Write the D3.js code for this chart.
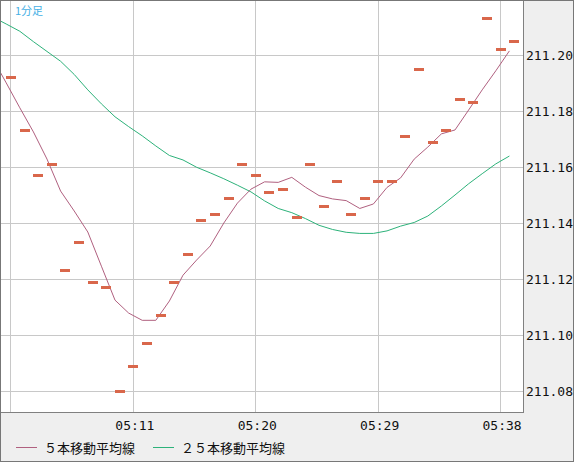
<!DOCTYPE html>
<html><head><meta charset="utf-8">
<script src="https://cdn.jsdelivr.net/npm/d3@7"></script>
<style>html,body{margin:0;padding:0;background:#efefef;} svg{display:block}</style>
</head><body>
<svg id="c" width="574" height="462"></svg>
<script>
// ---- data ----
const priceTimes = ["05:02","05:03","05:04","05:05","05:06","05:07","05:08","05:09","05:10","05:11",
  "05:12","05:13","05:14","05:15","05:16","05:17","05:18","05:19","05:20","05:21",
  "05:22","05:23","05:24","05:25","05:26","05:27","05:28","05:29","05:30","05:31",
  "05:32","05:33","05:34","05:35","05:36","05:37","05:38","05:39"];
const prices = [211.192,211.173,211.157,211.161,211.123,211.133,211.119,211.117,211.080,211.089,
  211.097,211.107,211.119,211.129,211.141,211.143,211.149,211.161,211.157,211.151,
  211.152,211.142,211.161,211.146,211.155,211.143,211.149,211.155,211.155,211.171,
  211.195,211.169,211.173,211.184,211.183,211.213,211.202,211.205];
const maTimes = ["05:01","05:02","05:03","05:04","05:05","05:06","05:07","05:08","05:09","05:10",
  "05:11","05:12","05:13","05:14","05:15","05:16","05:17","05:18","05:19","05:20",
  "05:21","05:22","05:23","05:24","05:25","05:26","05:27","05:28","05:29","05:30",
  "05:31","05:32","05:33","05:34","05:35","05:36","05:37","05:38","05:39"];
const ma5 = [211.1988,211.1901,211.1812,211.1726,211.1629,211.1515,211.1444,211.1369,211.1247,211.1126,
  211.1080,211.1054,211.1054,211.1123,211.1215,211.1269,211.1319,211.1401,211.1472,211.1522,
  211.1548,211.1546,211.1564,211.1529,211.1499,211.1487,211.1481,211.1453,211.1469,211.1528,
  211.1562,211.1629,211.1672,211.1719,211.1733,211.1804,211.1876,211.1944,211.2015];
const ma25 = [211.2136,211.2111,211.2085,211.2048,211.2013,211.1978,211.1931,211.1876,211.1826,211.1780,
  211.1745,211.1712,211.1676,211.1642,211.1626,211.1600,211.1580,211.1559,211.1536,211.1512,
  211.1480,211.1453,211.1438,211.1417,211.1393,211.1378,211.1368,211.1364,211.1364,211.1373,
  211.1390,211.1403,211.1426,211.1462,211.1501,211.1541,211.1577,211.1612,211.1640];
const timeTicks = ["05:02","05:11","05:20","05:29","05:38"];
const priceTicks = [211.08,211.10,211.12,211.14,211.16,211.18,211.20];
const legendLabels = ["５本移動平均線","２５本移動平均線"];
const periodLabel = "1分足";

// ---- layout ----
const W = 574, H = 462;
const P = {left:1, top:1, right:523, bottom:412};
const COL = {ma5:"#b0607f", ma25:"#2db27a", price:"#d9674b", grid:"#c8c8c8", frame:"#808080"};
const parse = d3.timeParse("%H:%M:%S");
const pt = s => parse(s + ":00");
const maShift = -21000; // ms

const svg = d3.select("#c");
svg.append("rect").attr("x",0).attr("y",0).attr("width",W).attr("height",H).attr("fill","#efefef");
svg.append("rect").attr("x",P.left).attr("y",P.top).attr("width",P.right-P.left).attr("height",P.bottom-P.top).attr("fill","#fff");

const x = d3.scaleTime().domain([parse("05:01:16"), parse("05:39:39")]).range([P.left, P.right]);
const y = d3.scaleLinear().domain([211.0727, 211.2193]).range([P.bottom, P.top]);

svg.append("defs").append("clipPath").attr("id","clip").append("rect")
  .attr("x",P.left).attr("y",P.top).attr("width",P.right-P.left).attr("height",P.bottom-P.top);

// grid
const grid = svg.append("g").attr("shape-rendering","crispEdges").attr("stroke",COL.grid).attr("stroke-width",1);
timeTicks.forEach(t => {
  const xx = Math.floor(x(pt(t))) + 0.5;
  grid.append("line").attr("x1",xx).attr("x2",xx).attr("y1",P.top).attr("y2",P.bottom);
});
priceTicks.forEach(v => {
  const yy = Math.floor(y(v)) + 0.5;
  grid.append("line").attr("x1",P.left).attr("x2",P.right).attr("y1",yy).attr("y2",yy);
});

const plot = svg.append("g").attr("clip-path","url(#clip)");
const line = d3.line().x((d,i) => x(new Date(pt(maTimes[i]).getTime() + maShift))).y(d => y(d));
plot.append("path").datum(ma25).attr("d",line).attr("fill","none").attr("stroke",COL.ma25).attr("stroke-width",1);
plot.append("path").datum(ma5).attr("d",line).attr("fill","none").attr("stroke",COL.ma5).attr("stroke-width",1);

plot.append("g").attr("shape-rendering","crispEdges").selectAll("rect").data(prices).join("rect")
  .attr("x",(d,i) => Math.round(x(pt(priceTimes[i])) - 5))
  .attr("y",d => Math.round(y(d) - 1.5))
  .attr("width",10).attr("height",3).attr("fill",COL.price);

// frame of plot
svg.append("path").attr("d",`M${P.right+0.5},0 V${P.bottom+0.5} H0`).attr("fill","none")
  .attr("stroke",COL.frame).attr("shape-rendering","crispEdges");

// axes
const tickFont = "'DejaVu Sans Mono', 'Liberation Mono', monospace";
const xAxis = d3.axisBottom(x).tickValues(timeTicks.map(pt)).tickFormat(d3.timeFormat("%H:%M")).tickSize(0).tickPadding(0);
const gx = svg.append("g").attr("transform",`translate(1,${P.bottom})`).call(xAxis);
gx.select(".domain").remove();
gx.selectAll("text").attr("font-family",tickFont).attr("font-size",13).attr("fill","#111")
  .attr("dy",null).attr("y",18)
  .style("display", d => x(d) - 20 < 0 ? "none" : null);

const yAxis = d3.axisRight(y).tickValues(priceTicks).tickFormat(d3.format(".2f")).tickSize(0).tickPadding(0);
const gy = svg.append("g").attr("transform",`translate(${P.right+3},0)`).call(yAxis);
gy.select(".domain").remove();
gy.selectAll("text").attr("font-family",tickFont).attr("font-size",13).attr("fill","#111");
gy.selectAll(".tick").attr("transform", d => `translate(0,${Math.floor(y(d))+0.5})`);

// period label
svg.append("text").attr("x",15).attr("y",15).text(periodLabel)
  .attr("font-family","'Noto Sans CJK JP', sans-serif").attr("font-size",11).attr("fill","#45b0e5");

// legend
const legendX = [{lx:16, tx:44, c:COL.ma5},{lx:153, tx:181, c:COL.ma25}];
legendLabels.forEach((lab,i) => {
  const L = legendX[i];
  svg.append("line").attr("x1",L.lx).attr("x2",L.lx+21).attr("y1",447.5).attr("y2",447.5)
    .attr("stroke",L.c).attr("stroke-width",1).attr("shape-rendering","crispEdges");
  svg.append("text").attr("x",L.tx).attr("y",453).text(lab)
    .attr("font-family","'Noto Sans CJK JP', sans-serif").attr("font-size",13).attr("fill","#111");
});

// outer border
svg.append("rect").attr("x",0.5).attr("y",0.5).attr("width",W-1).attr("height",H-1)
  .attr("fill","none").attr("stroke","#777").attr("shape-rendering","crispEdges");
</script>
</body></html>
